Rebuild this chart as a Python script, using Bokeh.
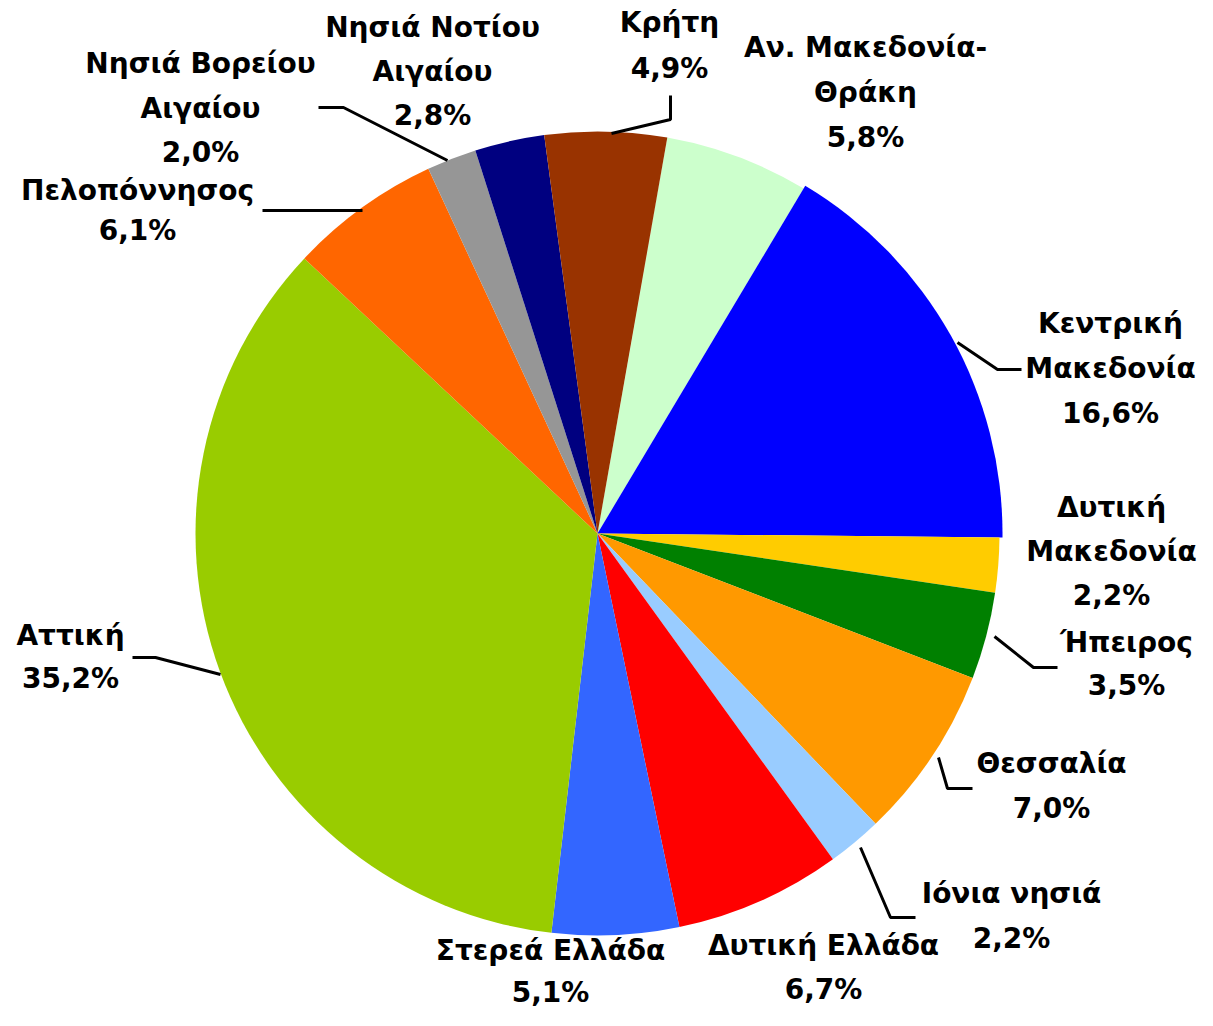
import math
from bokeh.plotting import figure
from bokeh.models import Range1d, ColumnDataSource
from bokeh.core.properties import value
from bokeh.embed import file_html
from bokeh.resources import INLINE

# ---- data (clockwise order, starting just right of 12 o'clock) ----
regions = ["Αν. Μακεδονία-Θράκη", "Κεντρική Μακεδονία", "Δυτική Μακεδονία", "Ήπειρος",
           "Θεσσαλία", "Ιόνια νησιά", "Δυτική Ελλάδα", "Στερεά Ελλάδα", "Αττική",
           "Πελοπόννησος", "Νησιά Βορείου Αιγαίου", "Νησιά Νοτίου Αιγαίου", "Κρήτη"]
shares = [5.8, 16.6, 2.2, 3.5, 7.0, 2.2, 6.7, 5.1, 35.2, 6.1, 2.0, 2.8, 4.9]
label_lines = [["Αν. Μακεδονία-", "Θράκη"], ["Κεντρική", "Μακεδονία"], ["Δυτική", "Μακεδονία"],
               ["Ήπειρος"], ["Θεσσαλία"], ["Ιόνια νησιά"], ["Δυτική Ελλάδα"], ["Στερεά Ελλάδα"],
               ["Αττική"], ["Πελοπόννησος"], ["Νησιά Βορείου", "Αιγαίου"], ["Νησιά Νοτίου", "Αιγαίου"],
               ["Κρήτη"]]

# ---- styles / layout ----
colors = ["#CCFFCC", "#0000FF", "#FFCC00", "#008000", "#FF9900", "#99CCFF", "#FF0000",
          "#3366FF", "#99CC00", "#FF6600", "#969696", "#000080", "#993300"]
H = 1026  # reference image height (y flip)
W_FIG, H_FIG = 1197, 1010
cx, cy, R = 597, 533, 402
radius_extra = [0, 3, 0, 0, 0, 0, 0, 0, 0, 0, 0, 0, 0]
start_deg = 10.0
TEXT_SHIFT = 10  # empirical baseline correction (px, upwards)

# label centre x, first baseline y (image coords), line gap
lab_x = [865, 1110, 1111, 1126, 1051, 1011, 823, 550, 70, 137, 200, 432, 669]
lab_y = [57, 333, 517, 652, 773, 903, 955, 960, 645, 200, 73, 37, 32]
lab_gap = [45, 45, 44, 43, 45, 45, 44, 42, 43, 40, 44.5, 44, 46]

# leader lines (image coords)
leaders = {
    "Κεντρική Μακεδονία": [(1021, 369), (997, 369), (957, 342)],
    "Ήπειρος": [(1057, 667), (1033, 667), (994, 636)],
    "Θεσσαλία": [(972, 788), (947, 788), (938, 757)],
    "Ιόνια νησιά": [(915, 917), (890, 917), (860, 847)],
    "Αττική": [(132, 657), (155, 657), (220, 674)],
    "Πελοπόννησος": [(262, 210), (362, 210)],
    "Νησιά Βορείου Αιγαίου": [(318, 107), (343, 107), (447, 160)],
    "Κρήτη": [(670, 95), (670, 119), (611, 133)],
}

p = figure(width=W_FIG, height=H_FIG, x_range=Range1d(0, W_FIG), y_range=Range1d(H - H_FIG, H),
           output_backend="svg", toolbar_location=None, min_border=0)
p.axis.visible = False
p.grid.visible = False
p.outline_line_color = None
p.background_fill_color = "white"

total = sum(shares)
starts, ends = [], []
theta = start_deg
for v in shares:
    t2 = theta + v / total * 360.0
    starts.append(math.radians(90 - t2))
    ends.append(math.radians(90 - theta))
    theta = t2

src = ColumnDataSource(dict(x=[cx] * len(shares), y=[H - cy] * len(shares),
                            r=[R + e for e in radius_extra],
                            s=starts, e=ends, c=colors))
p.wedge(x="x", y="y", radius="r", start_angle="s", end_angle="e", direction="anticlock",
        fill_color="c", line_color=None, source=src)

# leader lines
xs, ys = [], []
for name, pts in leaders.items():
    xs.append([q[0] for q in pts])
    ys.append([H - q[1] for q in pts])
p.multi_line(xs=xs, ys=ys, line_color="black", line_width=3)

# labels
tx, ty, tt = [], [], []
for i, v in enumerate(shares):
    lines = label_lines[i] + [f"{v:.1f}".replace(".", ",") + "%"]
    for k, ln in enumerate(lines):
        tx.append(lab_x[i])
        ty.append(H - (lab_y[i] + k * lab_gap[i] - TEXT_SHIFT))
        tt.append(ln)
p.text(x=tx, y=ty, text=tt, text_font=value("DejaVu Sans"), text_font_style="bold",
       text_font_size="28px", text_align="center", text_baseline="alphabetic", text_color="black")

open("out.html", "w").write(file_html(p, INLINE))
